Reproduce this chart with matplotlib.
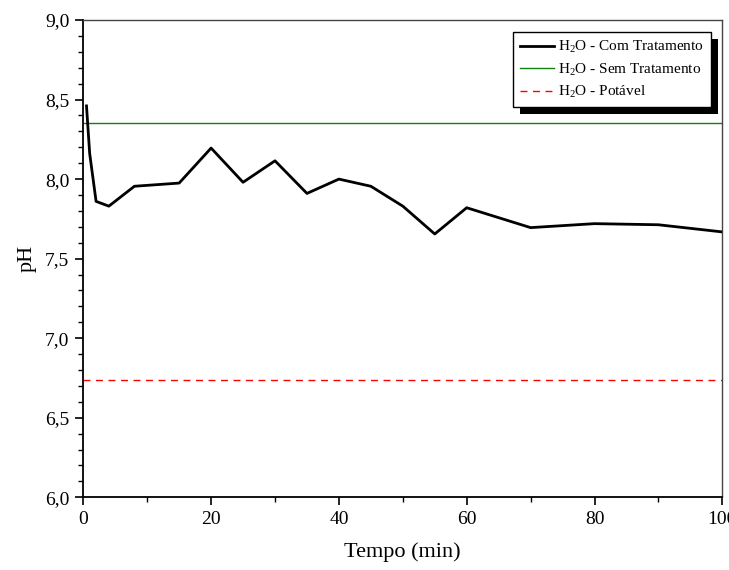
import matplotlib
matplotlib.use("Agg")
import matplotlib.pyplot as plt
from matplotlib.ticker import MultipleLocator, FuncFormatter
from matplotlib.patches import Rectangle

plt.rcParams['font.family'] = ['Liberation Serif', 'DejaVu Serif']
plt.rcParams['mathtext.fontset'] = 'custom'
plt.rcParams['mathtext.rm'] = 'Liberation Serif'
plt.rcParams['mathtext.it'] = 'Liberation Serif:italic'

tempo = [0.5, 1, 2, 4, 8, 15, 20, 25, 30, 35, 40, 45, 50, 55, 60, 70, 80, 90, 100]
ph_com = [8.46, 8.16, 7.86, 7.83, 7.955, 7.975, 8.195, 7.98, 8.115, 7.91, 8.0,
          7.955, 7.83, 7.655, 7.82, 7.695, 7.72, 7.713, 7.668]
ph_sem = 8.35
ph_potavel = 6.74

labels = [r'H$_2$O - Com Tratamento', r'H$_2$O - Sem Tratamento', r'H$_2$O - Potável']

fig = plt.figure(figsize=(7.29, 5.70), dpi=100)
ax = fig.add_axes([83.3/729, 1-497.3/570, (722.3-83.3)/729, (497.3-20)/570])

l1, = ax.plot(tempo, ph_com, color='black', lw=2.0, label=labels[0], zorder=3)
l2 = ax.axhline(ph_sem, color='#108010', lw=1.0, label=labels[1])
l3 = ax.axhline(ph_potavel, color='red', lw=1.0, ls=(0, (5, 4)), label=labels[2])

ax.set_xlim(0, 100)
ax.set_ylim(6.0, 9.0)
ax.xaxis.set_major_locator(MultipleLocator(20))
ax.xaxis.set_minor_locator(MultipleLocator(10))
ax.yaxis.set_major_locator(MultipleLocator(0.5))
ax.yaxis.set_minor_locator(MultipleLocator(0.1))
ax.yaxis.set_major_formatter(FuncFormatter(lambda v, p: f"{v:.1f}".replace('.', ',')))
ax.tick_params(which='major', direction='out', length=6, width=1.2, labelsize=14, pad=4)
ax.tick_params(which='minor', direction='out', length=3.5, width=1.0)
ax.tick_params(top=False, right=False)

for s in ['left', 'bottom']:
    ax.spines[s].set_linewidth(1.3)
    ax.spines[s].set_color('black')
for s in ['top', 'right']:
    ax.spines[s].set_linewidth(1.0)
    ax.spines[s].set_color('#444444')

ax.set_xlabel('Tempo (min)', fontsize=16, labelpad=10)
ax.set_ylabel('pH', fontsize=16, labelpad=6)

leg = ax.legend(loc='upper right', bbox_to_anchor=(0.9823, 0.974), borderaxespad=0,
                fontsize=11, frameon=True, fancybox=False, framealpha=1,
                edgecolor='black', handlelength=2.2, handletextpad=0.3,
                labelspacing=0.42, borderpad=0.45)
leg.get_frame().set_linewidth(1.0)
leg.set_zorder(10)

fig.canvas.draw()
bb = leg.get_window_extent()
shadow = Rectangle((bb.x0 + 7, bb.y0 - 7), bb.width, bb.height, transform=None,
                   facecolor='black', edgecolor='none', zorder=9, clip_on=False)
ax.add_artist(shadow)

fig.savefig('out.png', dpi=100)
